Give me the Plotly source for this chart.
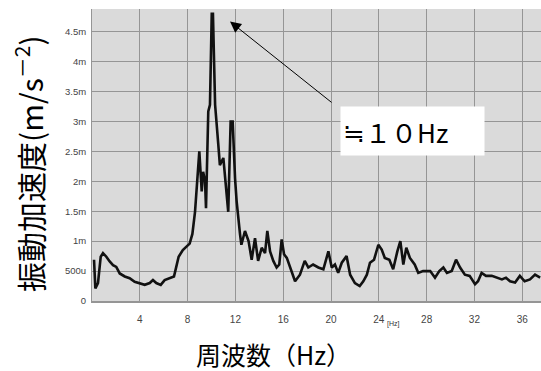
import plotly.graph_objects as go

freq_hz = [0.17, 0.28, 0.5, 0.73, 0.92, 1.2, 1.48, 1.76, 2.03, 2.32, 2.74, 3.15, 3.57, 4.0,
           4.41, 4.83, 5.1, 5.38, 5.75, 6.08, 6.5, 6.86, 7.05, 7.25, 7.6, 7.9, 8.17, 8.4,
           8.62, 8.98, 9.18, 9.3, 9.46, 9.54, 9.73, 9.87, 10.02, 10.12, 10.3, 10.57, 10.7,
           10.99, 11.27, 11.4, 11.6, 11.77, 11.97, 12.1, 12.39, 12.5, 12.8, 13.1, 13.36,
           13.64, 13.9, 14.2, 14.48, 14.67, 14.9, 15.17, 15.45, 15.67, 15.87, 16.07, 16.3,
           16.57, 16.99, 17.4, 17.8, 18.1, 18.5, 18.94, 19.36, 19.78, 20.06, 20.33, 20.6,
           20.9, 21.3, 21.6, 22.0, 22.4, 22.7, 23.0, 23.26, 23.6, 23.96, 24.24, 24.5, 24.88,
           25.2, 25.55, 25.8, 26.05, 26.3, 26.6, 27.0, 27.3, 27.7, 28.3, 28.7, 29.06, 29.4,
           29.7, 30.1, 30.46, 30.8, 31.2, 31.6, 32.05, 32.3, 32.6, 32.97, 33.45, 33.87, 34.3,
           34.64, 34.98, 35.4, 35.8, 36.2, 36.65, 37.07, 37.5]

accel_m = [0.69, 0.21, 0.3, 0.74, 0.8, 0.74, 0.66, 0.6, 0.57, 0.46, 0.41, 0.38, 0.32, 0.3,
           0.27, 0.3, 0.35, 0.3, 0.27, 0.35, 0.38, 0.41, 0.57, 0.74, 0.85, 0.91, 0.96, 1.12,
           1.49, 2.5, 1.83, 2.16, 2.0, 1.55, 3.17, 3.28, 4.8, 4.8, 3.28, 2.61, 2.27,
           2.39, 1.83, 1.49, 3.0, 3.0, 2.05, 1.67, 1.11, 0.94, 1.17, 1.0, 0.69,
           1.05, 0.67, 0.89, 0.8, 1.17, 0.83, 0.67, 0.56, 0.61, 1.03, 0.78, 0.72,
           0.56, 0.33, 0.44, 0.67, 0.56, 0.61, 0.56, 0.53, 0.83, 0.56, 0.61, 0.47,
           0.64, 0.75, 0.44, 0.3, 0.25, 0.33, 0.44, 0.64, 0.69, 0.94, 0.86, 0.72, 0.69,
           0.53, 0.83, 1.0, 0.61, 0.89, 0.72, 0.61, 0.47, 0.5, 0.5, 0.39, 0.5, 0.56,
           0.47, 0.5, 0.69, 0.56, 0.44, 0.42, 0.28, 0.33, 0.47, 0.42, 0.42, 0.39, 0.36,
           0.39, 0.33, 0.31, 0.42, 0.33, 0.36, 0.44, 0.39]

assert len(freq_hz) == len(accel_m)

x_ticks = [4, 8, 12, 16, 20, 24, 28, 32, 36]
x_tick_text = ["4", "8", "12", "16", "20", "24", "28", "32", "36"]
y_ticks = [0, 0.5, 1, 1.5, 2, 2.5, 3, 3.5, 4, 4.5]
y_tick_text = ["0", "500u", "1m", "1.5m", "2m", "2.5m", "3m", "3.5m", "4m", "4.5m"]

peak_hz, peak_val = 11.55, 4.67
label_hz, label_val = 26.8, 2.84

fig = go.Figure()
fig.add_trace(go.Scatter(x=freq_hz, y=accel_m, mode="lines",
                         line=dict(color="#111111", width=2.6), showlegend=False))

fig.update_layout(
    width=541, height=371,
    margin=dict(l=92, r=0, t=9, b=70),
    paper_bgcolor="white",
    plot_bgcolor="#dadada",
    font=dict(family="Noto Sans CJK JP", color="black"),
    xaxis=dict(range=[0, 37.57], tickvals=x_ticks, ticktext=x_tick_text,
               showgrid=True, gridcolor="#959595", gridwidth=1,
               zeroline=False, showline=True, linecolor="#959595", linewidth=2,
               ticks="", ticklabelstandoff=8,
               tickfont=dict(family="Liberation Sans", size=10, color="#444444")),
    yaxis=dict(range=[0, 4.88], tickvals=y_ticks, ticktext=y_tick_text,
               showgrid=True, gridcolor="#959595", gridwidth=1,
               zeroline=False, showline=True, linecolor="#959595", linewidth=1,
               ticks="", ticklabelstandoff=3,
               tickfont=dict(family="Liberation Sans", size=9.5, color="#444444")),
    annotations=[
        dict(text="振動加速度(m/s<sup>－2</sup>)", xref="paper", yref="paper",
             x=-0.14, y=0.47, textangle=-90, showarrow=False,
             xanchor="center", yanchor="middle",
             font=dict(size=30, family="Noto Sans CJK JP")),
        dict(text="周波数（Hz）", xref="paper", yref="paper",
             x=0.404, y=-0.18, showarrow=False, xanchor="center", yanchor="middle",
             font=dict(size=25, family="Noto Sans CJK JP")),
        dict(text="[Hz]", x=25.2, xref="x", yref="paper", y=-0.1,
             showarrow=False, font=dict(size=7, family="Liberation Sans", color="#333333")),
        dict(text="≒１０Hz", x=label_hz, y=label_val, xref="x", yref="y",
             showarrow=False, bgcolor="white", width=139, height=44, borderpad=2,
             align="left", valign="middle",
             font=dict(size=26, family="Noto Sans CJK JP", color="black")),
        dict(text="", x=peak_hz, y=peak_val, xref="x", yref="y",
             ax=103, ay=82, showarrow=True, arrowhead=2, arrowsize=2.2,
             arrowwidth=1, arrowcolor="black", standoff=0),
    ],
)

fig.write_html("out.html")
